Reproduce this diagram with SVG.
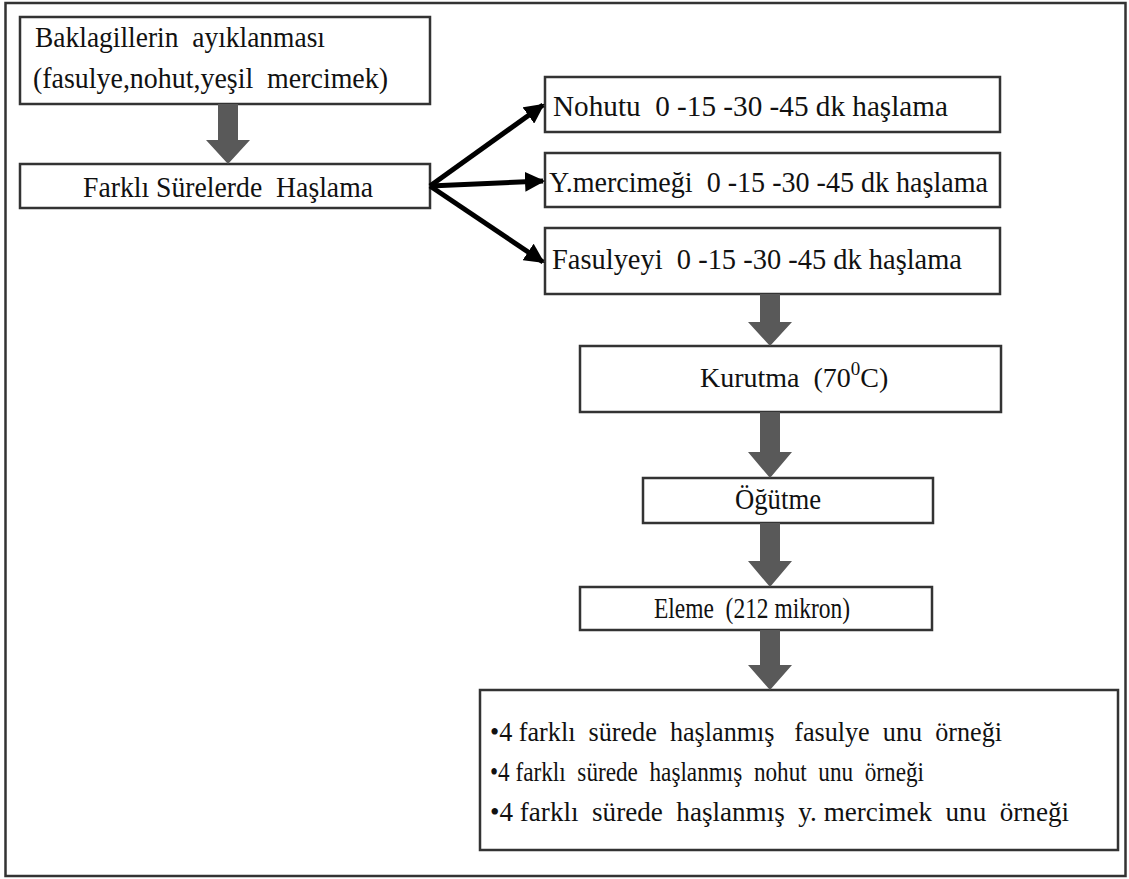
<svg xmlns="http://www.w3.org/2000/svg" width="1129" height="879" viewBox="0 0 1129 879">
<defs>
<style>
.box{fill:#fff;stroke:#333;stroke-width:2.5}
.t{font-family:'Liberation Serif','Times New Roman',serif;font-size:29px;fill:#111;white-space:pre}
.blk{stroke:#000;stroke-width:5;fill:none}
.gray{fill:#595959}
</style>
<marker id="ah" viewBox="0 0 10 10" refX="9" refY="5" markerWidth="4" markerHeight="4" orient="auto" markerUnits="strokeWidth">
<path d="M0,0 L10,5 L0,10 z" fill="#000"/>
</marker>
</defs>
<rect x="0" y="0" width="1129" height="879" fill="#fff"/>
<rect x="5.5" y="3" width="1120" height="873" fill="none" stroke="#333" stroke-width="2.5"/>

<g id="n1">
<rect class="box" x="20" y="17" width="410" height="87"/>
<text class="t" x="35" y="47" textLength="290" lengthAdjust="spacingAndGlyphs">Baklagillerin  ayıklanması</text>
<text class="t" x="33" y="88" textLength="355" lengthAdjust="spacingAndGlyphs">(fasulye,nohut,yeşil  mercimek)</text>
</g>
<g id="n2">
<rect class="box" x="20" y="164" width="410" height="44"/>
<text class="t" x="83" y="197" textLength="290" lengthAdjust="spacingAndGlyphs">Farklı Sürelerde  Haşlama</text>
</g>
<g id="n3">
<rect class="box" x="545" y="77" width="455" height="55"/>
<text class="t" x="553" y="116" textLength="395" lengthAdjust="spacingAndGlyphs">Nohutu  0 -15 -30 -45 dk haşlama</text>
</g>
<g id="n4">
<rect class="box" x="545" y="153" width="455" height="54"/>
<text class="t" x="549" y="192" textLength="439" lengthAdjust="spacingAndGlyphs">Y.mercimeği  0 -15 -30 -45 dk haşlama</text>
</g>
<g id="n5">
<rect class="box" x="545" y="228" width="455" height="66"/>
<text class="t" x="552" y="269" textLength="410" lengthAdjust="spacingAndGlyphs">Fasulyeyi  0 -15 -30 -45 dk haşlama</text>
</g>
<g id="n6">
<rect class="box" x="580" y="346" width="421" height="66"/>
<text class="t" x="700" y="387" style="font-size:28px">Kurutma  (70<tspan dy="-12" style="font-size:19px">0</tspan><tspan dy="12">C)</tspan></text>
</g>
<g id="n7">
<rect class="box" x="643" y="478" width="290" height="45"/>
<text class="t" x="735" y="509" textLength="86" lengthAdjust="spacingAndGlyphs">Öğütme</text>
</g>
<g id="n8">
<rect class="box" x="580" y="587" width="352" height="43"/>
<text class="t" x="654" y="618" textLength="196" lengthAdjust="spacingAndGlyphs">Eleme  (212 mikron)</text>
</g>
<g id="n9">
<rect class="box" x="480" y="690" width="638" height="160"/>
<text class="t" x="490" y="741" style="font-size:27px" textLength="512" lengthAdjust="spacingAndGlyphs">•4 farklı  sürede  haşlanmış   fasulye  unu  örneği</text>
<text class="t" x="490" y="781" style="font-size:27px" textLength="434" lengthAdjust="spacingAndGlyphs">•4 farklı  sürede  haşlanmış  nohut  unu  örneği</text>
<text class="t" x="490" y="821" style="font-size:27px" textLength="579" lengthAdjust="spacingAndGlyphs">•4 farklı  sürede  haşlanmış  y. mercimek  unu  örneği</text>
</g>

<g id="connectors">
<path class="gray" d="M218,104 H238 V140 H250 L228,164 L206,140 H218 Z"/>
<path class="gray" d="M760,294 H780 V322 H792 L770,346 L748,322 H760 Z"/>
<path class="gray" d="M760,412 H780 V452 H792 L770,478 L748,452 H760 Z"/>
<path class="gray" d="M760,523 H780 V561 H792 L770,587 L748,561 H760 Z"/>
<path class="gray" d="M760,630 H780 V665 H792 L770,690 L748,665 H760 Z"/>
<line class="blk" x1="430" y1="186" x2="543" y2="105" marker-end="url(#ah)"/>
<line class="blk" x1="430" y1="186" x2="543" y2="181" marker-end="url(#ah)"/>
<line class="blk" x1="430" y1="186" x2="543" y2="262" marker-end="url(#ah)"/>
</g>
</svg>
